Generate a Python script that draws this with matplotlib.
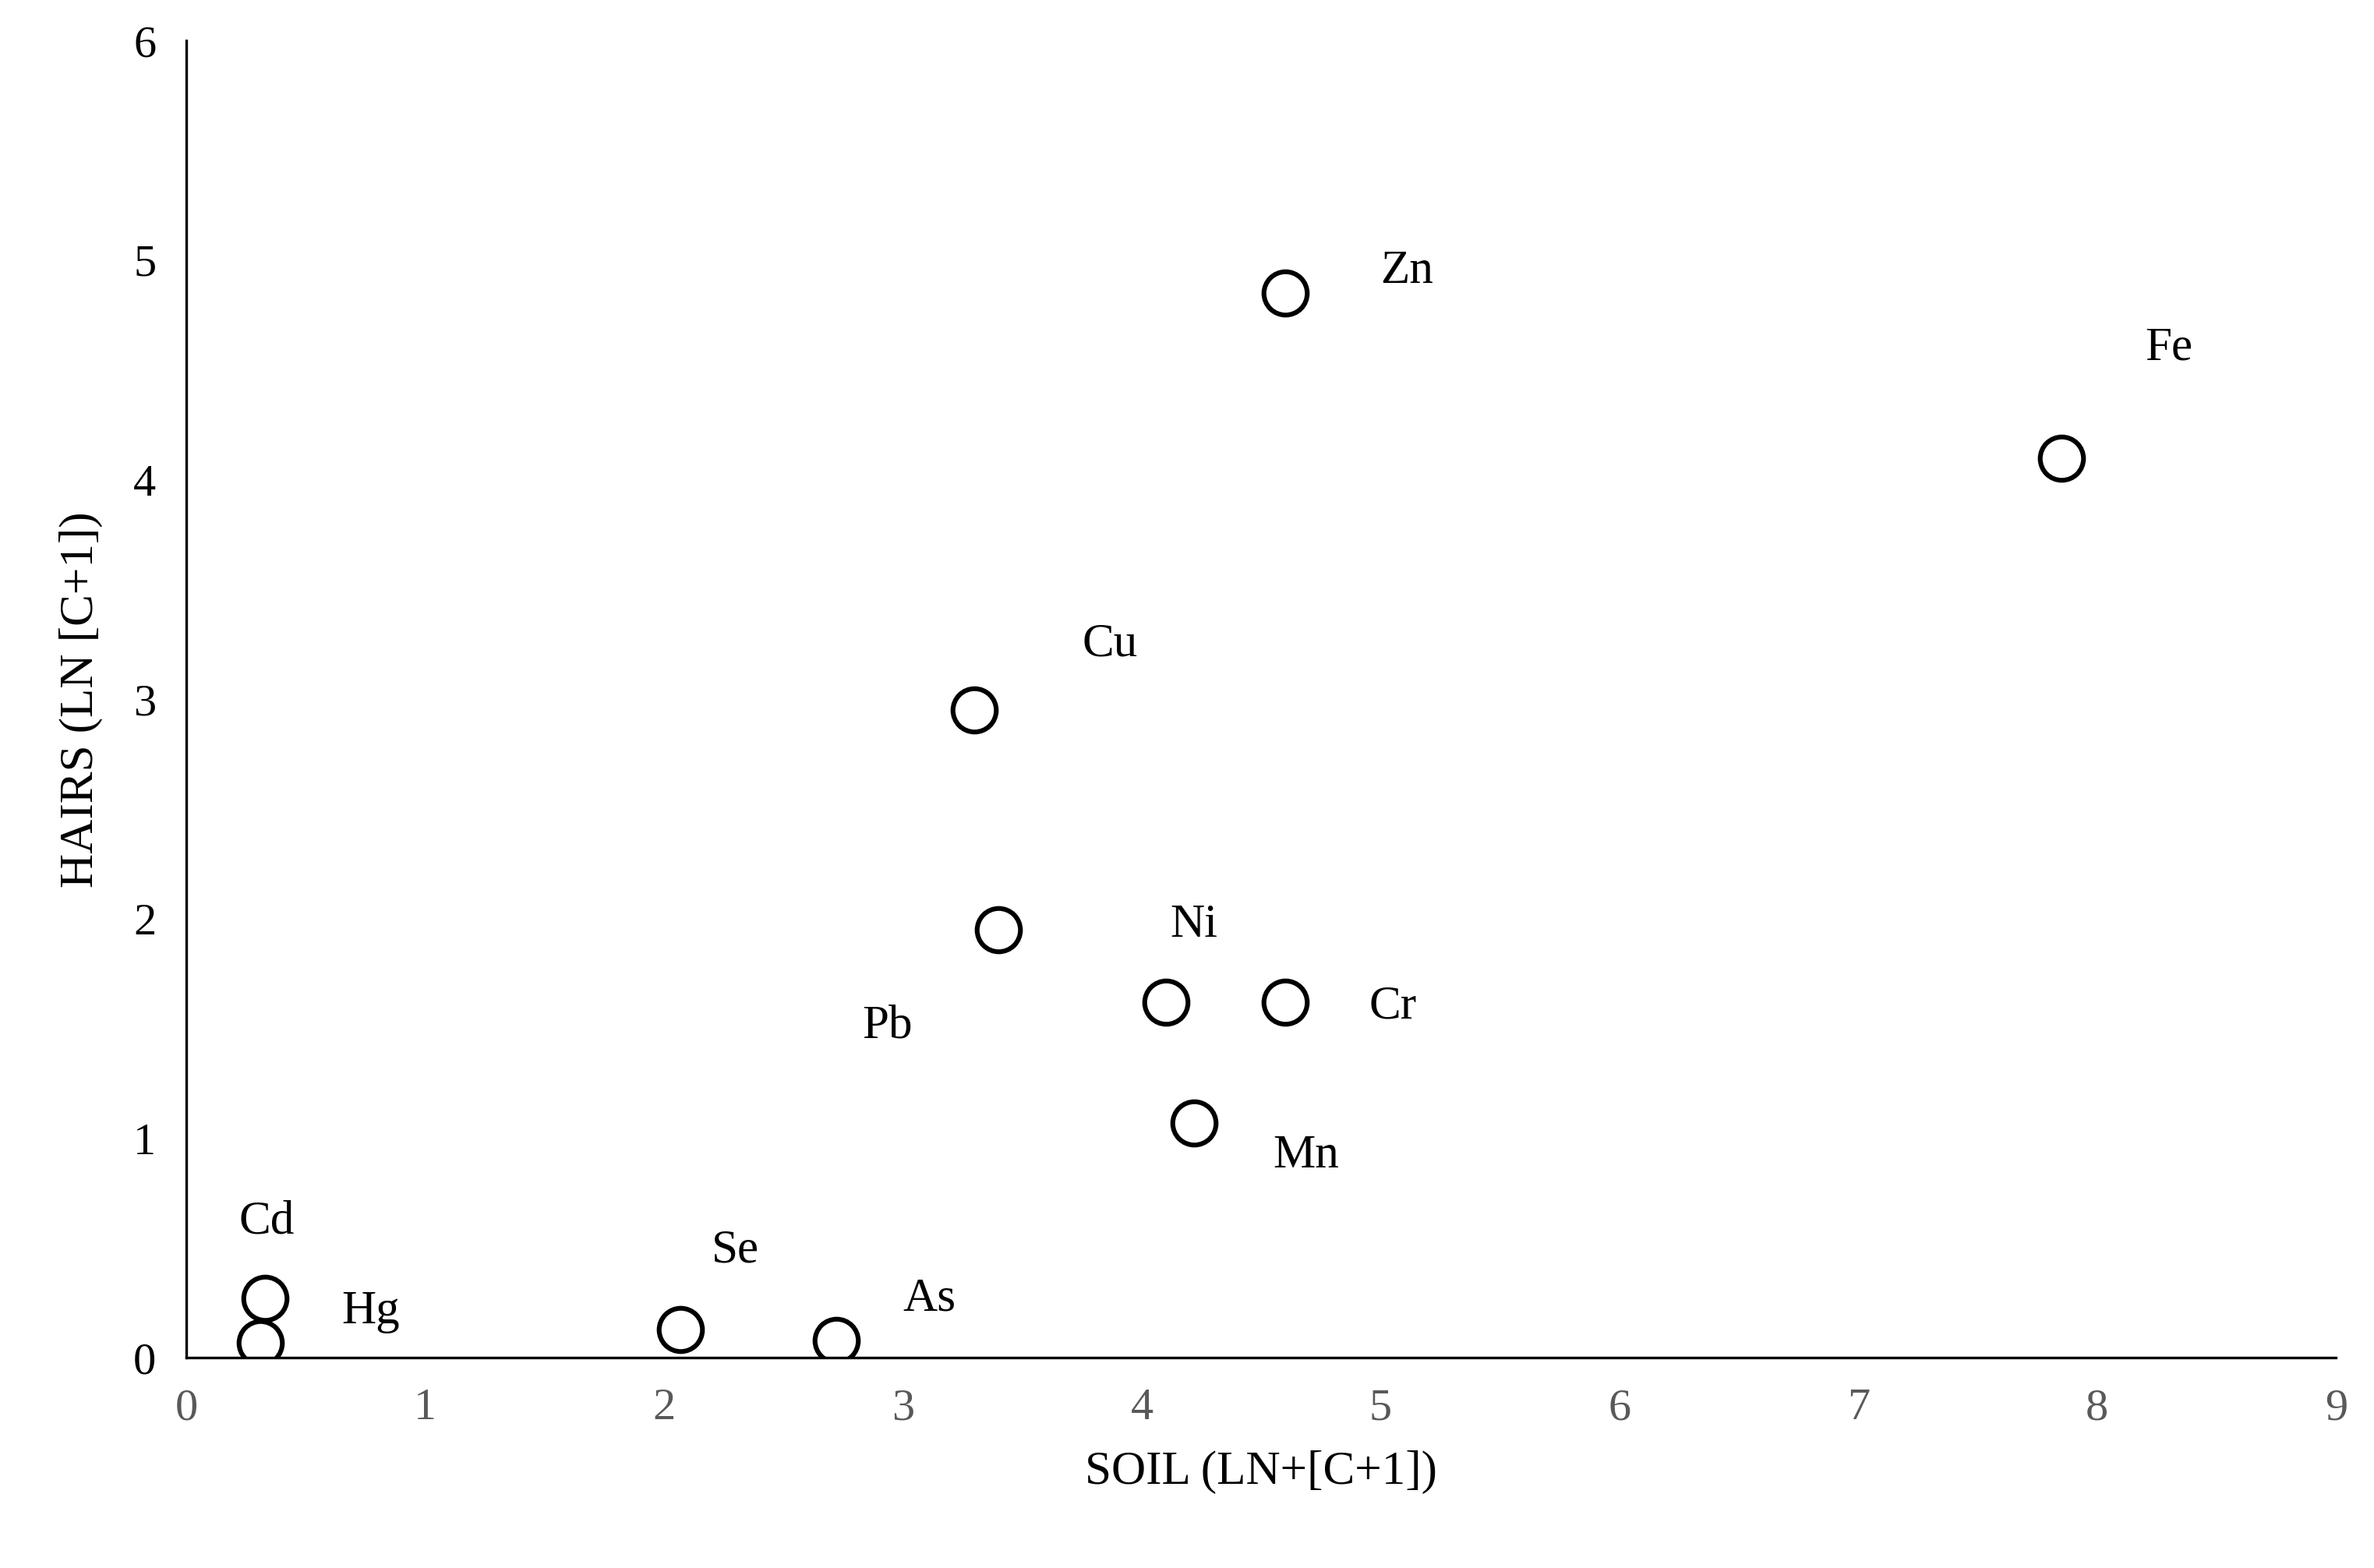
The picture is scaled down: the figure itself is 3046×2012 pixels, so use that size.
import matplotlib.pyplot as plt

plt.rcParams['font.family'] = ['Liberation Serif', 'DejaVu Serif']

elements = ['Zn', 'Fe', 'Cu', 'Pb', 'Ni', 'Cr', 'Mn', 'Cd', 'Hg', 'Se', 'As']
soil = [4.6, 7.85, 3.3, 3.4, 4.1, 4.6, 4.22, 0.33, 0.31, 2.07, 2.72]
hairs = [4.85, 4.1, 2.95, 1.95, 1.62, 1.62, 1.07, 0.27, 0.07, 0.13, 0.08]
# label anchor positions (data units)
label_x = [5.0, 8.2, 3.75, 2.83, 4.12, 4.95, 4.55, 0.22, 0.65, 2.2, 3.0]
label_y = [4.95, 4.6, 3.25, 1.51, 1.97, 1.6, 0.92, 0.62, 0.21, 0.49, 0.27]

fig = plt.figure(figsize=(15.23, 10.06), dpi=200)
ax = fig.add_axes([0.0785, 0.134, 0.9055, 0.84])

ax.plot(soil, hairs, 'o', markersize=20, markerfacecolor='white',
        markeredgecolor='black', markeredgewidth=2.2, linestyle='none')
for name, lx, ly in zip(elements, label_x, label_y):
    ax.text(lx, ly, name, fontsize=22, va='center', ha='left')

ax.set_xlim(0, 9)
ax.set_ylim(0, 6)
ax.set_xticks(range(10))
ax.set_yticks(range(7))
ax.tick_params(length=0, labelsize=21, pad=14)
for t in ax.get_xticklabels():
    t.set_color('#595959')
ax.spines['top'].set_visible(False)
ax.spines['right'].set_visible(False)
ax.spines['left'].set_linewidth(1.2)
ax.spines['bottom'].set_linewidth(1.2)
ax.set_xlabel('SOIL (LN+[C+1])', fontsize=22, labelpad=10)
ax.set_ylabel('HAIRS (LN [C+1])', fontsize=22, labelpad=14)

fig.savefig('out.png', dpi=200, facecolor='white')
